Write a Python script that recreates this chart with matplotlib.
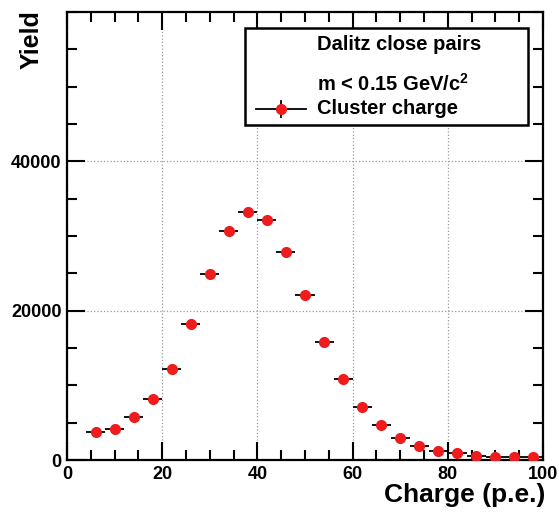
import matplotlib
matplotlib.use("Agg")
import matplotlib.pyplot as plt
from matplotlib.patches import Rectangle
from matplotlib.lines import Line2D
from matplotlib.ticker import MultipleLocator

# === Data
charge = [6, 10, 14, 18, 22, 26, 30, 34, 38, 42, 46, 50, 54, 58, 62, 66, 70, 74, 78, 82, 86, 90, 94, 98]
yield_counts = [3700, 4200, 5800, 8200, 12200, 18250, 24900, 30700, 33200, 32150, 27850, 22150,
                15800, 10850, 7050, 4700, 2900, 1900, 1250, 900, 600, 450, 400, 350]
bin_half_width = 2.0

legend_lines = ["Dalitz close pairs", r"m < 0.15 GeV/c$^\mathbf{2}$"]
series_label = "Cluster charge"

# === Style
plt.rcParams["font.family"] = ["Liberation Sans", "DejaVu Sans"]
plt.rcParams["font.weight"] = "bold"
plt.rcParams["mathtext.fontset"] = "custom"
plt.rcParams["mathtext.rm"] = "Liberation Sans:bold"
plt.rcParams["mathtext.bf"] = "Liberation Sans:bold"

fig = plt.figure(figsize=(5.59, 5.13), dpi=100)
ax = fig.add_axes([0.1199, 0.1033, 0.8515, 0.8733])

ax.errorbar(charge, yield_counts, xerr=bin_half_width, fmt="o", color="#ee1c1c",
            markersize=7, ecolor="black", elinewidth=1.3, capsize=0, zorder=3)

ax.set_xlim(0, 100)
ax.set_ylim(0, 60000)
ax.xaxis.set_major_locator(MultipleLocator(20))
ax.xaxis.set_minor_locator(MultipleLocator(5))
ax.set_yticks([0, 20000, 40000])
ax.yaxis.set_minor_locator(MultipleLocator(5000))

ax.tick_params(which="both", direction="in", top=True, right=True, width=1.5,
               labelsize=13)
ax.tick_params(which="major", length=13, pad=4)
ax.tick_params(which="minor", length=7)
for lab in ax.get_xticklabels() + ax.get_yticklabels():
    lab.set_fontweight("bold")
for sp in ax.spines.values():
    sp.set_linewidth(1.6)

ax.grid(True, which="major", linestyle=":", color="#999999", linewidth=0.9)
ax.set_axisbelow(True)

# === Axis titles
fig.text(32 / 559, 1 - 10 / 513, "Yield", rotation=90, ha="center", va="top",
         fontsize=18, fontweight="bold")
fig.text(545 / 559, 1 - 495 / 513, "Charge (p.e.)", ha="right", va="center",
         fontsize=19, fontweight="bold")

# === Legend box (ROOT style)
box = Rectangle((0.374, 0.748), 0.594, 0.216, transform=ax.transAxes,
                facecolor="white", edgecolor="black", linewidth=1.8, zorder=5)
ax.add_patch(box)
ax.text(0.525, 0.927, legend_lines[0], transform=ax.transAxes, ha="left", va="center",
        fontsize=14.5, fontweight="bold", zorder=6)
ax.text(0.525, 0.84, legend_lines[1], transform=ax.transAxes, ha="left", va="center",
        fontsize=14.5, fontweight="bold", zorder=6)
ax.text(0.525, 0.784, series_label, transform=ax.transAxes, ha="left", va="center",
        fontsize=14.5, fontweight="bold", zorder=6)
ax.add_line(Line2D([0.397, 0.502], [0.784, 0.784], transform=ax.transAxes,
                   color="black", linewidth=1.3, zorder=6))
ax.add_line(Line2D([0.450, 0.450], [0.766, 0.802], transform=ax.transAxes,
                   color="black", linewidth=1.3, zorder=6))
ax.add_line(Line2D([0.450], [0.784], transform=ax.transAxes, marker="o",
                   markersize=7, color="#ee1c1c", linestyle="none", zorder=7))

fig.savefig("out.png", dpi=100)
